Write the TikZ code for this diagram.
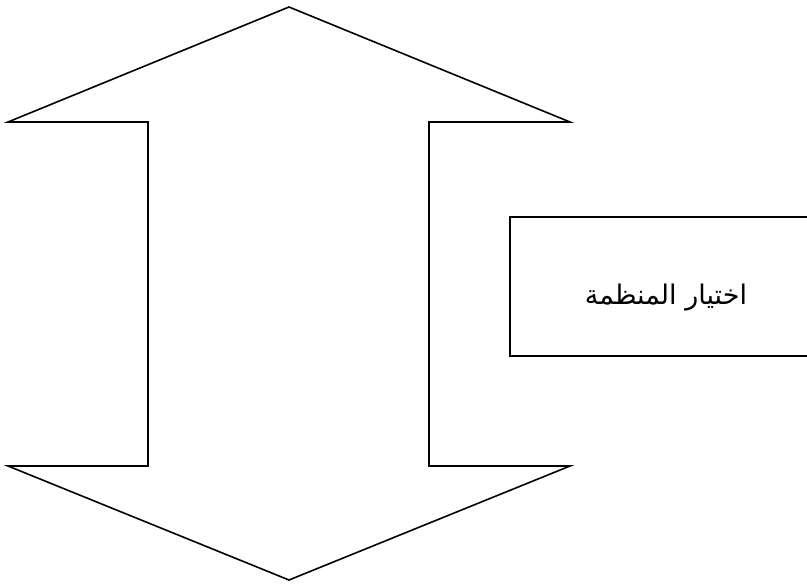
\documentclass[tikz,border=0pt]{standalone}
\usepackage{fontspec}
\newfontfamily\arabicfont[Script=Arabic]{DejaVu Sans}
\TeXXeTstate=1
\begin{document}
\begin{tikzpicture}[x=1pt,y=-1pt,
  outline/.style={draw=black,line width=1.6pt,line join=miter},
  labelbox/.style={draw=black,line width=1.6pt,minimum width=312pt,minimum height=139pt,inner sep=0pt,anchor=west}]
\useasboundingbox (0,0) rectangle (807,584);
\clip (0,0) rectangle (807,584);
\draw[outline] (289,7) -- (570,122) -- (429,122) -- (429,466) -- (570,466) -- (289,580)
  -- (8,466) -- (148,466) -- (148,122) -- (8,122) -- cycle;
\node[labelbox] (box) at (509,286.5) {};
\node[font=\arabicfont\fontsize{27}{32}\selectfont] (lbl) at (666,298) {\beginR اختيار المنظمة\endR};
\end{tikzpicture}
\end{document}
